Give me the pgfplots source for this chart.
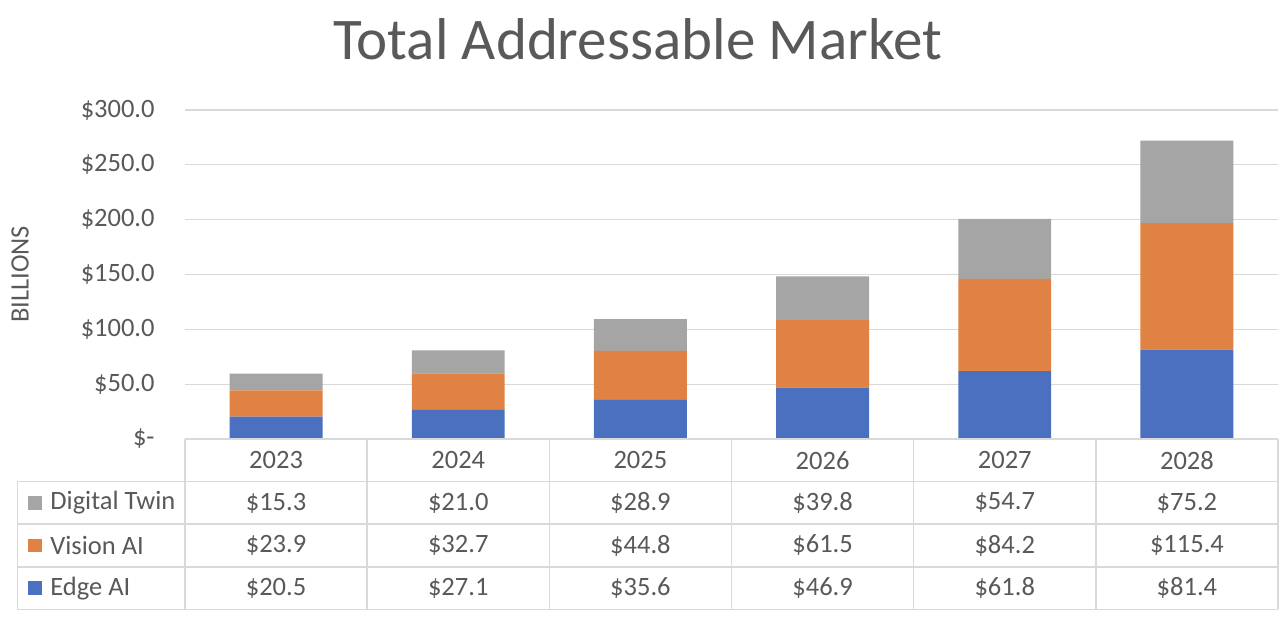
\documentclass[border=0pt]{standalone}
\usepackage{pgfplots}
\pgfplotsset{compat=1.18}
\usepackage{fontspec}
\setmainfont{Carlito}
\definecolor{cblue}{HTML}{4A70BF}
\definecolor{corange}{HTML}{DF8244}
\definecolor{cgray}{HTML}{A5A5A5}
\definecolor{txt}{HTML}{595959}
\definecolor{gridc}{HTML}{D9D9D9}
\begin{document}
\begin{tikzpicture}[font=\fontsize{13.25pt}{15pt}\selectfont, text=txt]
\useasboundingbox (-92.5pt,-90.5pt) rectangle (551.5pt,219.5pt);
\begin{axis}[at={(0,0)}, anchor=south west, scale only axis,
  width=546.5pt, height=164.5pt,
  xmin=-0.5, xmax=5.5, ymin=0, ymax=300,
  ybar stacked, bar width=0.51,
  axis line style={draw=none},
  ytick={0,50,100,150,200,250,300},
  yticklabels={\$-\hspace{6.5pt},\$50.0,\$100.0,\$150.0,\$200.0,\$250.0,\$300.0},
  xtick=\empty,
  ymajorgrids, grid style={color=gridc, line width=0.65pt},
  major tick length=0pt, clip=false,
  yticklabel style={anchor=east, inner sep=0pt, xshift=-15pt, text=txt, font=\fontsize{13.25pt}{15pt}\selectfont},
]
\addplot[fill=cblue, draw=none] coordinates {(0,20.5) (1,27.1) (2,35.6) (3,46.9) (4,61.8) (5,81.4)};
\addplot[fill=corange, draw=none] coordinates {(0,23.9) (1,32.7) (2,44.8) (3,61.5) (4,84.2) (5,115.4)};
\addplot[fill=cgray, draw=none] coordinates {(0,15.3) (1,21.0) (2,28.9) (3,39.8) (4,54.7) (5,75.2)};
\end{axis}
% title and axis label
\node[anchor=base, font=\fontsize{29.5pt}{34pt}\selectfont, text=txt] at (226.25pt,189.5pt) {Total Addressable Market};
\node[rotate=90, text=txt] at (-82.5pt,82.25pt) {BILLIONS};
% data table grid
\begin{scope}[draw=gridc, line width=0.75pt]
\draw (0pt,0pt) -- (546.5pt,0pt);
\foreach \y in {-21.3,-42.6,-63.9,-85.2} \draw (-83.85pt,\y pt) -- (546.5pt,\y pt);
\draw (-83.85pt,-21.3pt) -- (-83.85pt,-85.2pt);
\foreach \i in {0,...,6} \draw ({\i*91.0833pt},0pt) -- ({\i*91.0833pt},-85.2pt);
\end{scope}
% table text
\foreach \t [count=\i from 0] in {2023,2024,2025,2026,2027,2028}
  \node at ({(\i+0.5)*91.0833pt},-10.65pt) {\t};
\foreach \t [count=\i from 0] in {\$15.3,\$21.0,\$28.9,\$39.8,\$54.7,\$75.2}
  \node at ({(\i+0.5)*91.0833pt},-31.95pt) {\t};
\foreach \t [count=\i from 0] in {\$23.9,\$32.7,\$44.8,\$61.5,\$84.2,\$115.4}
  \node at ({(\i+0.5)*91.0833pt},-53.25pt) {\t};
\foreach \t [count=\i from 0] in {\$20.5,\$27.1,\$35.6,\$46.9,\$61.8,\$81.4}
  \node at ({(\i+0.5)*91.0833pt},-74.55pt) {\t};
% legend keys
\fill[cgray] (-78.5pt,-35.4pt) rectangle ++(6.85pt,6.85pt);
\fill[corange] (-78.5pt,-56.7pt) rectangle ++(6.85pt,6.85pt);
\fill[cblue] (-78.5pt,-78pt) rectangle ++(6.85pt,6.85pt);
\node[anchor=west, inner sep=0pt] at (-67.5pt,-31.95pt) {Digital Twin};
\node[anchor=west, inner sep=0pt] at (-67.5pt,-53.25pt) {Vision AI};
\node[anchor=west, inner sep=0pt] at (-67.5pt,-74.55pt) {Edge AI};
\end{tikzpicture}
\end{document}
